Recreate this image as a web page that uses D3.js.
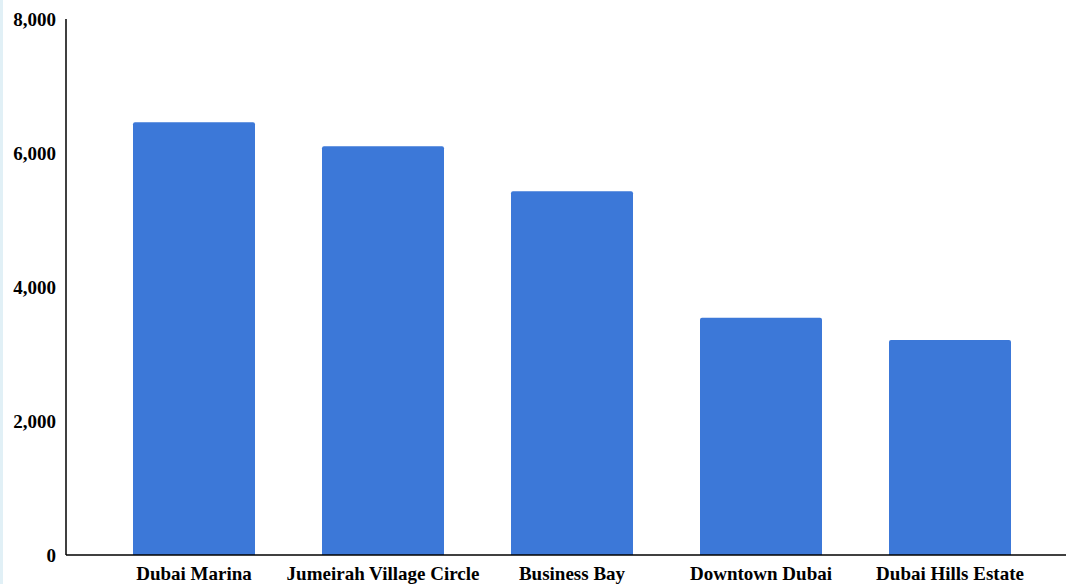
<!DOCTYPE html>
<html>
<head>
<meta charset="utf-8">
<script src="https://cdn.jsdelivr.net/npm/d3@7"></script>
<style>
  html, body { margin: 0; padding: 0; background: #fff; }
  svg { display: block; }
  .lbl { font-family: "Liberation Serif", "Times New Roman", serif; font-weight: bold; font-size: 19px; fill: #000; }
</style>
</head>
<body>
<svg id="chart" width="1066" height="584"></svg>
<script>
// Average rent per area
const areas = ["Dubai Marina", "Jumeirah Village Circle", "Business Bay", "Downtown Dubai", "Dubai Hills Estate"];
const values = [6460, 6100, 5430, 3540, 3210];
const yTicks = [0, 2000, 4000, 6000, 8000];

const W = 1066, H = 584;
const svg = d3.select("#chart");

// thin tinted strip on the left edge
svg.append("rect").attr("x", 0).attr("y", 0).attr("width", 3).attr("height", H).attr("fill", "#e1f0f6");

const x0 = 66, yBase = 555, yTop = 19;
const y = d3.scaleLinear().domain([0, 8000]).range([yBase, yTop]);
const x = d3.scaleBand().domain(areas).range([x0, 1078]).paddingInner(0.3545).paddingOuter(0.3545);

// bars with slightly rounded top corners
const r = 2;
svg.append("g").selectAll("path").data(areas).join("path")
  .attr("fill", "#3c78d8")
  .attr("d", (d, i) => {
    const bx = x(d), bw = x.bandwidth(), top = y(values[i]);
    return `M${bx},${yBase}V${top + r}Q${bx},${top} ${bx + r},${top}H${bx + bw - r}Q${bx + bw},${top} ${bx + bw},${top + r}V${yBase}Z`;
  });

// y axis
const yAxis = svg.append("g").attr("transform", `translate(${x0},0)`)
  .call(d3.axisLeft(y).tickValues(yTicks).tickSize(0).tickPadding(10).tickFormat(d3.format(",")));
yAxis.select(".domain").attr("stroke", "#000").attr("stroke-width", 1.5).attr("d", `M0,${yTop}V${yBase}`);
yAxis.selectAll("text").attr("class", "lbl").attr("font-family", null).attr("font-size", null).attr("dy", "0.32em");

// x axis
const xAxis = svg.append("g").attr("transform", `translate(0,${yBase})`)
  .call(d3.axisBottom(x).tickSize(0));
xAxis.select(".domain").attr("stroke", "#000").attr("stroke-width", 1.5).attr("d", `M${x0},0H${W}`);
xAxis.selectAll("text").attr("class", "lbl").attr("font-family", null).attr("font-size", null)
  .attr("y", 25).attr("dy", null);
</script>
</body>
</html>
